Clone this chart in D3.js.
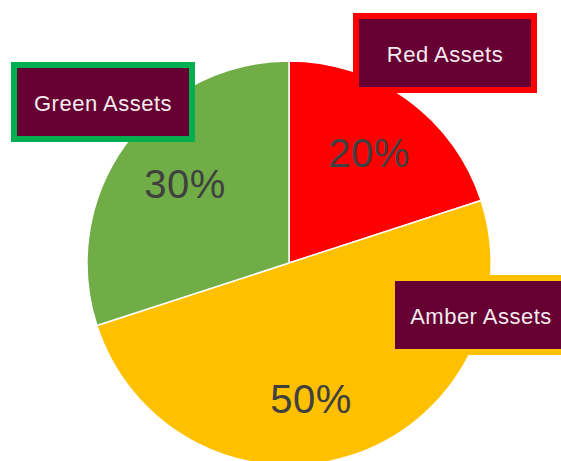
<!DOCTYPE html>
<html>
<head>
<meta charset="utf-8">
<script src="https://cdn.jsdelivr.net/npm/d3@7"></script>
<style>
  html, body { margin: 0; padding: 0; background: #fff; }
  svg { display: block; }
</style>
</head>
<body>
<div id="chart"></div>
<script>
// ---- data ----
const categories = ["Red Assets", "Amber Assets", "Green Assets"];
const values = [20, 50, 30];
const percentLabels = ["20%", "50%", "30%"];

// ---- styling / layout (not data) ----
const sliceColors = ["#FF0000", "#FFC000", "#70AD47"];
const boxBorders = ["#FF0000", "#FFC000", "#00B050"];
const W = 561, H = 461;
const cx = 289, cy = 263, R = 202;
// callout box centres relative to the pie centre
const boxOffsets = [[156, -210], [192, 52], [-186, -161]];
const labelNudge = [[0, 0], [-20, 7], [6, 1]];
const boxW = 178, boxH = 74;

const svg = d3.select("#chart").append("svg")
  .attr("width", W).attr("height", H);

const g = svg.append("g").attr("transform", `translate(${cx},${cy})`);

const data = categories.map((c, i) => ({ cat: c, value: values[i], label: percentLabels[i], i }));

const pie = d3.pie().sort(null).value(d => d.value);
const arcs = pie(data);
const arc = d3.arc().innerRadius(0).outerRadius(R);
const labelArc = d3.arc().innerRadius(136).outerRadius(136);

g.selectAll("path.slice")
  .data(arcs)
  .join("path")
  .attr("class", "slice")
  .attr("d", arc)
  .attr("fill", d => sliceColors[d.data.i])
  .attr("stroke", "#fff")
  .attr("stroke-width", 1.5)
  .attr("stroke-linejoin", "round");

g.selectAll("text.pct")
  .data(arcs)
  .join("text")
  .attr("class", "pct")
  .attr("x", d => labelArc.centroid(d)[0] + labelNudge[d.data.i][0])
  .attr("y", d => labelArc.centroid(d)[1] + labelNudge[d.data.i][1])
  .attr("text-anchor", "middle")
  .attr("dominant-baseline", "central")
  .attr("font-family", "'Liberation Sans', Arial, sans-serif")
  .attr("font-size", 40)
  .attr("letter-spacing", 0.5)
  .attr("fill", "#404040")
  .text(d => d.data.label);

const boxes = g.selectAll("g.callout")
  .data(arcs)
  .join("g")
  .attr("class", "callout")
  .attr("transform", d => `translate(${boxOffsets[d.data.i][0]},${boxOffsets[d.data.i][1]})`);

boxes.append("rect")
  .attr("x", -boxW / 2).attr("y", -boxH / 2)
  .attr("width", boxW).attr("height", boxH)
  .attr("fill", "#660033")
  .attr("stroke", d => boxBorders[d.data.i])
  .attr("stroke-width", 6);

boxes.append("text")
  .attr("text-anchor", "middle")
  .attr("dominant-baseline", "central")
  .attr("y", 1)
  .attr("font-family", "'Liberation Sans', Arial, sans-serif")
  .attr("font-size", 22)
  .attr("letter-spacing", 0.5)
  .attr("fill", "#F4ECF0")
  .text(d => d.data.cat);
</script>
</body>
</html>
